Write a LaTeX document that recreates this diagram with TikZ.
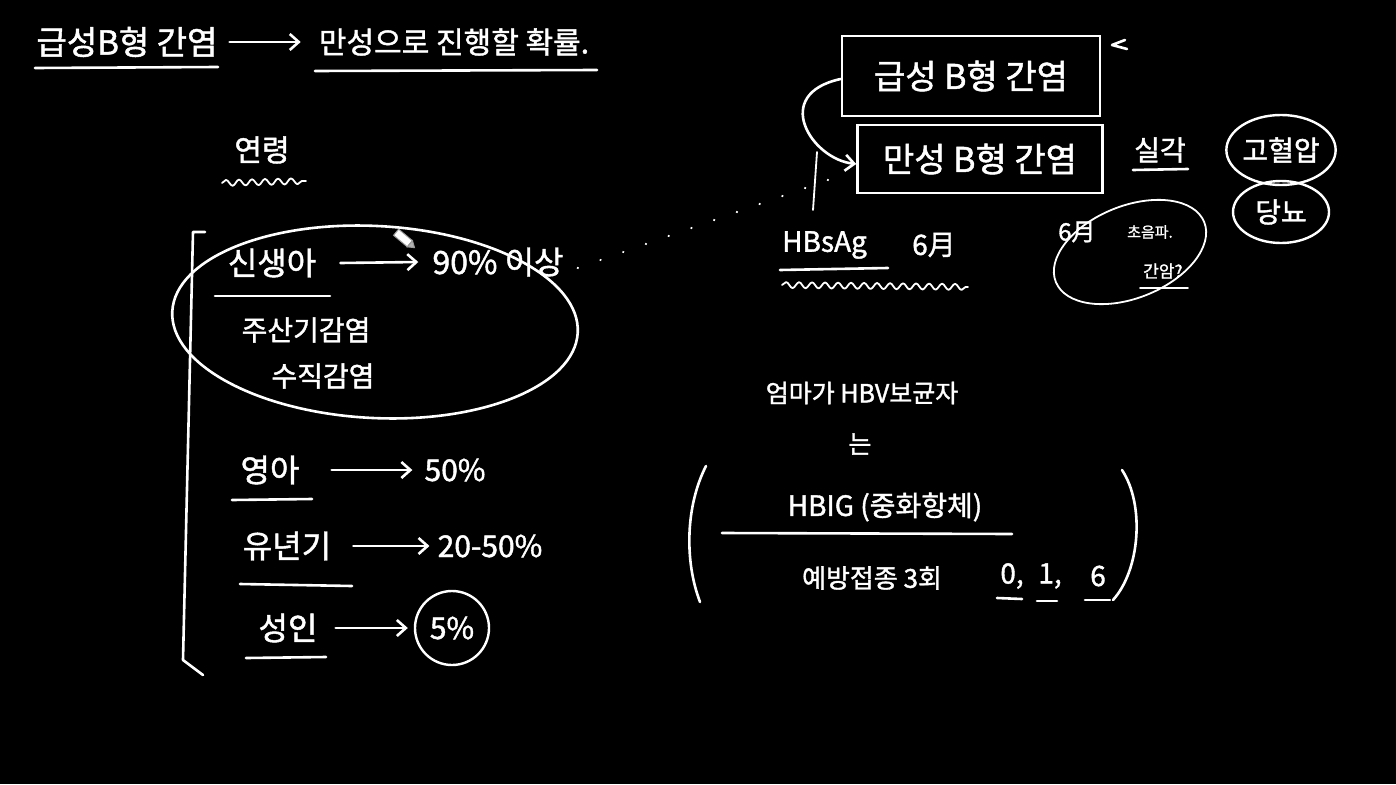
\documentclass[tikz,border=0pt]{standalone}
\usepackage{fontspec}
\newfontfamily\kr[FakeBold=1.4]{Noto Sans CJK KR}
\usetikzlibrary{shapes.geometric,arrows.meta,decorations.pathmorphing}
\begin{document}
\begin{tikzpicture}[x=1pt,y=-1pt,
  chalk/.style={draw=white,line width=2.6pt,line cap=round,line join=round},
  thin chalk/.style={draw=white,line width=1.8pt,line cap=round,line join=round},
  barb/.style={-{Straight Barb[length=9pt,width=16pt,line width=2.6pt]}},
  txt/.style={text=white,inner sep=0pt,font=\kr\fontsize{#1}{#1}\selectfont},
  txt/.default=30,
  wavy/.style={thin chalk,decorate,decoration={snake,amplitude=3pt,segment length=13pt}},
  oval/.style={ellipse,draw=white,line width=2.4pt,inner sep=0pt}]
\fill[black] (0,0) rectangle (1396,784);
\useasboundingbox (0,0) rectangle (1396,784);

% title
\node[txt=33] (t1) at (127,42) {급성B형 간염};
\node[txt=30] (t2) at (454,42) {만성으로 진행할 확률.};
\draw[chalk,barb] ([xshift=12pt]t1.east) -- ([xshift=-18pt]t2.west);
\draw[chalk] (35,68) -- (218,67);
\draw[chalk] (315,71) -- (597,70);

% age heading
\node[txt=30] (age) at (262,150) {연령};
\draw[wavy] (222,183) -- (306,181);

% bracket
\coordinate (bt) at (205,232);
\coordinate (bb) at (203,675);
\draw[chalk] (bt) -- (193,232) -- (183,660) -- (bb);

% newborn group
\node[txt=32] (nb) at (272,263) {신생아};
\draw[chalk] (215,296) -- (330,296);
\node[txt=32] (p90) at (498,262) {90\% 이상};
\draw[chalk,barb] ([xshift=24pt]nb.east) -- ([xshift=-14pt]p90.west);
\node[txt=28] (ps) at (306,330) {주산기감염};
\node[txt=28] (vt) at (323,376) {수직감염};
\draw[chalk,rotate around={-3:(375,322)}] (375,322) ellipse [x radius=203pt,y radius=96pt];

% pencil cursor
\begin{scope}[shift={(403,238)},rotate=-40]
\draw[draw=gray!80,fill=white,line width=1pt] (-9,-4) rectangle (9,4);
\draw[draw=gray!80,fill=gray!60,line width=1pt] (9,-4) -- (15,0) -- (9,4) -- cycle;
\end{scope}

% infant
\node[txt=32] (inf) at (270,470) {영아};
\draw[chalk] (232,500) -- (312,499);
\node[txt=30] (p50) at (455,470) {50\%};
\draw[chalk,barb] ([xshift=32pt]inf.east) -- ([xshift=-12pt]p50.west);

% childhood
\node[txt=32] (ch) at (287,546) {유년기};
\draw[chalk] (240,584) -- (352,586);
\node[txt=30] (p2050) at (490,546) {20-50\%};
\draw[chalk,barb] ([xshift=22pt]ch.east) -- ([xshift=-8pt]p2050.west);

% adult
\node[txt=32] (ad) at (288,628) {성인};
\draw[chalk] (246,658) -- (326,657);
\node[txt=30,circle,draw=white,line width=2.4pt,minimum size=74pt] (p5) at (452,628) {5\%};
\draw[chalk,barb] ([xshift=18pt]ad.east) -- ([xshift=-6pt]p5.west);

% boxes
\node[txt=34,draw=white,line width=2.6pt,minimum width=258pt,minimum height=80pt] (b1) at (971,76) {급성 B형 간염};
\node[txt=34,draw=white,line width=2.6pt,minimum width=245pt,minimum height=68pt] (b2) at (980,159) {만성 B형 간염};
\draw[chalk,barb] ([yshift=-3pt]b1.west) .. controls +(-70,15) and +(-45,-5) .. ([yshift=-5pt]b2.west);
\coordinate (mk) at (1125,40);
\draw[chalk] (mk) -- (1112,45) -- (1127,49);
\coordinate (tkA) at (817,152);
\coordinate (tkB) at (813,210);
\draw[thin chalk] (tkA) -- (tkB);
\coordinate (dotEnd) at (845,174);

% dotted link
\draw[white,line width=2.4pt,line cap=round,dash pattern=on 0.1pt off 24pt] ([xshift=14pt,yshift=-6pt]p90.east) -- (dotEnd);

% HBsAg
\node[txt=28,anchor=west] (hbs) at (782,245) {HBsAg};
\node[txt=28,anchor=west] (six) at (912,245) {6月};
\draw[chalk] (780,270) -- (888,268);
\draw[wavy] (782,285) -- (968,287);

% serious
\node[txt=28] (sev) at (1160,150) {실각};
\draw[chalk] (1133,170) -- (1188,169);
\node[txt=28,oval,minimum width=106pt,minimum height=70pt] (htn) at (1281,150) {고혈압};
\node[txt=28,oval,minimum width=96pt,minimum height=62pt] (dm) at (1281,212) {당뇨};

% 6-month ultrasound ellipse
\node[txt=24,anchor=west] (m6) at (1058,232) {6月};
\node[txt=15,anchor=west] (us) at (1127,232) {초음파.};
\node[txt=17,anchor=west] (hcc) at (1143,271) {간암?};
\draw[thin chalk] (1140,288) -- (1188,288);
\draw[thin chalk,rotate around={22:(1130,252)}] (1130,252) ellipse [x radius=80pt,y radius=46pt];

% mother carrier
\node[txt=25] (mom) at (862,393) {엄마가 HBV보균자};
\node[txt=25] (neun) at (860,444) {는};
\coordinate (lpT) at (706,466);
\coordinate (lpB) at (700,602);
\draw[chalk] (lpT) .. controls (686,505) and (684,560) .. (lpB);
\coordinate (rpT) at (1122,470);
\coordinate (rpB) at (1113,600);
\draw[chalk] (rpT) .. controls (1145,505) and (1140,570) .. (rpB);
\node[txt=28] (hbig) at (885,507) {HBIG (중화항체)};
\draw[chalk] (722,533) -- (1012,534);
\node[txt=26] (vac) at (872,578) {예방접종 3회};
\node[txt=28] (s0) at (1012,576) {0,};
\node[txt=28] (s1) at (1050,576) {1,};
\node[txt=28] (s6) at (1098,576) {6};
\draw[chalk] (997,598) -- (1022,599);
\draw[chalk] (1037,601) -- (1057,601);
\draw[chalk] (1085,600) -- (1110,600);
\end{tikzpicture}
\end{document}
